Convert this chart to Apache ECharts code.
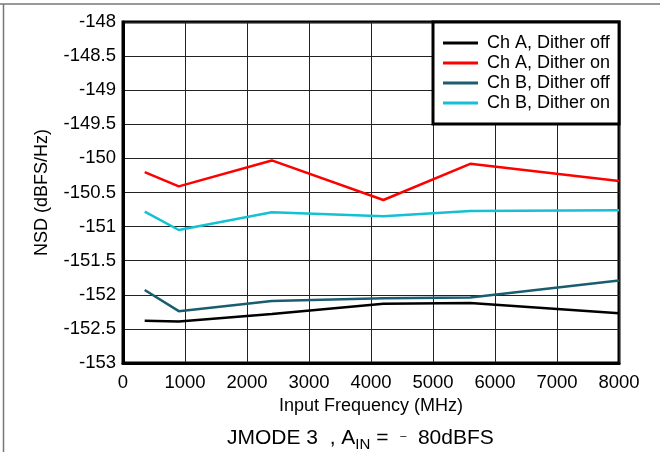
<!DOCTYPE html>
<html>
<head>
<meta charset="utf-8">
<script src="https://cdn.jsdelivr.net/npm/echarts@6/dist/echarts.min.js"></script>
<style>
  html, body { margin: 0; padding: 0; background: #fff; }
  #chart { width: 660px; height: 452px; }
</style>
</head>
<body>
<div id="chart"></div>
<script>
// input frequency (MHz)
var freqs = [350, 900, 2400, 4200, 5600, 8000];
// NSD (dBFS/Hz)
var chAOff = [-152.38, -152.39, -152.28, -152.13, -152.12, -152.27];
var chAOn  = [-150.20, -150.41, -150.03, -150.61, -150.08, -150.33];
var chBOff = [-151.93, -152.24, -152.09, -152.05, -152.04, -151.79];
var chBOn  = [-150.78, -151.05, -150.79, -150.85, -150.77, -150.76];
var seriesNames = ['Ch A, Dither off', 'Ch A, Dither on', 'Ch B, Dither off', 'Ch B, Dither on'];
var seriesColors = ['#000000', '#ff0000', '#1a5d6f', '#14c0d4'];

function pairs(ys) {
  return freqs.map(function (f, i) { return [f, ys[i]]; });
}

var chart = echarts.init(document.getElementById('chart'));
var font = 'Liberation Sans, Arial, sans-serif';

chart.setOption({
  animation: false,
  textStyle: { fontFamily: font },
  grid: {
    left: 123, right: 41, top: 22, bottom: 89,
    show: true, borderColor: '#000', borderWidth: 3, backgroundColor: 'transparent'
  },
  legend: {
    orient: 'vertical',
    left: 433, top: 22,
    padding: [12, 9, 12, 10],
    backgroundColor: '#fff',
    borderColor: '#000', borderWidth: 3, borderRadius: 0,
    icon: 'rect', itemWidth: 35, itemHeight: 3, itemGap: 2,
    textStyle: { fontSize: 18, color: '#000', fontFamily: font, lineHeight: 18, padding: [0, 0, 0, 4] },
    data: seriesNames
  },
  xAxis: {
    type: 'value', min: 0, max: 8000, interval: 1000,
    name: 'Input Frequency (MHz)', nameLocation: 'middle', nameGap: 40,
    nameTextStyle: { fontSize: 18, color: '#000', verticalAlign: 'middle' },
    axisLine: { show: true, lineStyle: { color: '#000', width: 3 } },
    axisTick: { show: false },
    axisLabel: { fontSize: 18.5, color: '#000', margin: 10, formatter: function (v) { return String(v); } },
    splitLine: { show: true, lineStyle: { color: '#222', width: 1 } }
  },
  yAxis: {
    type: 'value', min: -153, max: -148, interval: 0.5,
    name: 'NSD (dBFS/Hz)', nameLocation: 'middle', nameGap: 81,
    nameTextStyle: { fontSize: 18, color: '#000', verticalAlign: 'middle' },
    axisLine: { show: true, lineStyle: { color: '#000', width: 3 } },
    axisTick: { show: false },
    axisLabel: { fontSize: 18.5, color: '#000', margin: 7 },
    splitLine: { show: true, lineStyle: { color: '#222', width: 1 } }
  },
  series: [chAOff, chAOn, chBOff, chBOn].map(function (ys, i) {
    return {
      name: seriesNames[i],
      type: 'line',
      data: pairs(ys),
      symbol: 'none',
      color: seriesColors[i],
      lineStyle: { color: seriesColors[i], width: 2.5 },
      z: 3
    };
  }),
  graphic: [
    { type: 'line', shape: { x1: 0, y1: 4, x2: 660, y2: 4 }, style: { stroke: '#777', lineWidth: 1.5 }, silent: true },
    { type: 'line', shape: { x1: 3.5, y1: 4, x2: 3.5, y2: 452 }, style: { stroke: '#777', lineWidth: 1.5 }, silent: true },
    {
      type: 'text', left: 227, top: 425,
      style: {
        text: '{a|JMODE 3  , A}{s|IN}{a| =  }{m|\u2013}{a|  80dBFS}',
        fill: '#000',
        rich: {
          a: { fontSize: 21, fontFamily: font, fill: '#000', lineHeight: 26, verticalAlign: 'middle' },
          s: { fontSize: 15, fontFamily: font, fill: '#000', lineHeight: 14, verticalAlign: 'top', padding: [12, 0, 0, 0] },
          m: { fontSize: 11, fontFamily: font, fill: '#000', lineHeight: 12, verticalAlign: 'top', padding: [5, 0, 0, 0] }
        }
      }
    }
  ]
});
</script>
</body>
</html>
